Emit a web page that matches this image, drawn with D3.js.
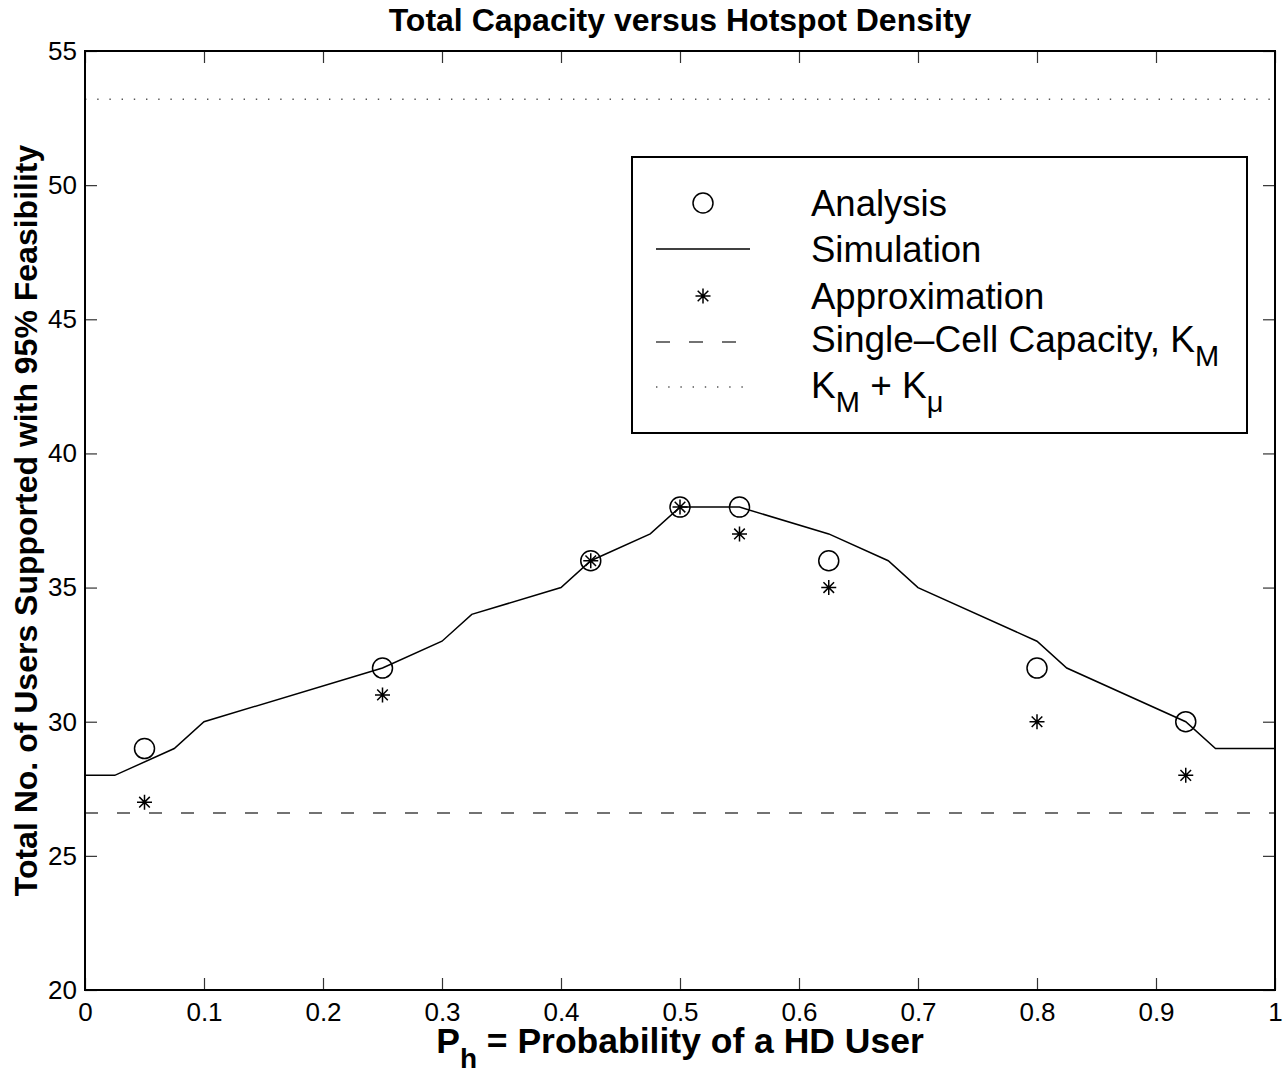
<!DOCTYPE html>
<html>
<head>
<meta charset="utf-8">
<script src="https://cdn.jsdelivr.net/npm/d3@7"></script>
<style>
  body { margin: 0; background: #fff; }
  text { font-family: "Liberation Sans", Arial, Helvetica, sans-serif; }
</style>
</head>
<body>
<div id="plot"></div>
<script>
// data
var simX = [0, 0.025, 0.075, 0.1, 0.25, 0.3, 0.325, 0.4, 0.425, 0.475, 0.5, 0.55, 0.625, 0.675, 0.7, 0.8, 0.825, 0.925, 0.95, 1];
var simY = [28, 28, 29, 30, 32, 33, 34, 35, 36, 37, 38, 38, 37, 36, 35, 33, 32, 30, 29, 29];
var ptX = [0.05, 0.25, 0.425, 0.5, 0.55, 0.625, 0.8, 0.925];
var analysisY = [29, 32, 36, 38, 38, 36, 32, 30];
var approxY = [27, 31, 36, 38, 37, 35, 30, 28];
var singleCell = 26.6;
var kmPlusKmu = 53.2;
var xTicks = [0, 0.1, 0.2, 0.3, 0.4, 0.5, 0.6, 0.7, 0.8, 0.9, 1];
var yTicks = [20, 25, 30, 35, 40, 45, 50, 55];

// set up drawing area
var W = 1285, H = 1076;
var margin = {t:51, r:10, b:86, l:85};
var width = W - margin.l - margin.r,
    height = H - margin.t - margin.b;

var svg = d3.select('#plot')
    .append('svg')
    .attr('width', W)
    .attr('height', H);

var plot = svg.append('g')
    .attr('transform', 'translate(' + margin.l + ',' + margin.t + ')');

var x = d3.scaleLinear().domain([0, 1]).range([0, width]);
var y = d3.scaleLinear().domain([20, 55]).range([height, 0]);

// axes, ticks pointing inward on all four sides
function styleAxis(g) {
    g.select('.domain').remove();
    g.selectAll('.tick line').attr('stroke', '#333').attr('stroke-width', 1.2);
    g.selectAll('.tick text')
        .style('font-size', '26px')
        .attr('fill', '#000');
}

plot.append('g')
    .attr('transform', 'translate(0,' + height + ')')
    .call(d3.axisBottom(x).tickValues(xTicks).tickSize(-12).tickPadding(13)
        .tickFormat(function(d){ return d === 0 || d === 1 ? d3.format('d')(d) : d3.format('.1f')(d); }))
    .call(styleAxis);

plot.append('g')
    .call(d3.axisTop(x).tickValues(xTicks).tickSize(-12).tickFormat(''))
    .call(styleAxis);

plot.append('g')
    .call(d3.axisLeft(y).tickValues(yTicks).tickSize(-12).tickPadding(8))
    .call(styleAxis);

plot.append('g')
    .attr('transform', 'translate(' + width + ',0)')
    .call(d3.axisRight(y).tickValues(yTicks).tickSize(-12).tickFormat(''))
    .call(styleAxis);

// reference lines
plot.append('line')
    .attr('x1', x(0)).attr('x2', x(1))
    .attr('y1', y(singleCell)).attr('y2', y(singleCell))
    .attr('stroke', '#444').attr('stroke-width', 1.5)
    .attr('stroke-dasharray', '13,19');

plot.append('line')
    .attr('x1', x(0)).attr('x2', x(1))
    .attr('y1', y(kmPlusKmu)).attr('y2', y(kmPlusKmu))
    .attr('stroke', '#555').attr('stroke-width', 1.4)
    .attr('stroke-dasharray', '1.4,10.8');

// simulation curve
var simData = simX.map(function(d, i){ return [d, simY[i]]; });
var line = d3.line()
    .x(function(d){ return x(d[0]); })
    .y(function(d){ return y(d[1]); });

plot.append('path')
    .datum(simData)
    .attr('d', line)
    .attr('fill', 'none')
    .attr('stroke', '#000')
    .attr('stroke-width', 1.5);

// asterisk marker
function star(cx, cy, r) {
    var p = '';
    for (var k = 0; k < 4; k++) {
        var a = k * Math.PI / 4;
        var dx = r * Math.cos(a), dy = r * Math.sin(a);
        p += 'M' + (cx - dx) + ',' + (cy - dy) + 'L' + (cx + dx) + ',' + (cy + dy);
    }
    return p;
}

// analysis circles
plot.selectAll('.ana')
    .data(ptX)
    .enter()
    .append('circle')
    .attr('cx', function(d){ return x(d); })
    .attr('cy', function(d, i){ return y(analysisY[i]); })
    .attr('r', 10)
    .attr('fill', 'none')
    .attr('stroke', '#000')
    .attr('stroke-width', 1.5);

// approximation stars
plot.selectAll('.apx')
    .data(ptX)
    .enter()
    .append('path')
    .attr('d', function(d, i){ return star(x(d), y(approxY[i]), 7.5); })
    .attr('stroke', '#000')
    .attr('stroke-width', 1.5);

// frame
plot.append('rect')
    .attr('width', width).attr('height', height)
    .attr('fill', 'none')
    .attr('stroke', '#000')
    .attr('stroke-width', 2);

// legend
var leg = svg.append('g');
leg.append('rect')
    .attr('x', 632).attr('y', 157)
    .attr('width', 615).attr('height', 276)
    .attr('fill', '#fff')
    .attr('stroke', '#000')
    .attr('stroke-width', 2);

var rows = [203, 249, 296, 342, 387];
leg.append('circle')
    .attr('cx', 703).attr('cy', rows[0]).attr('r', 10)
    .attr('fill', 'none').attr('stroke', '#000').attr('stroke-width', 1.5);
leg.append('line')
    .attr('x1', 656).attr('x2', 750).attr('y1', rows[1]).attr('y2', rows[1])
    .attr('stroke', '#000').attr('stroke-width', 1.5);
leg.append('path')
    .attr('d', star(703, rows[2], 7.5))
    .attr('stroke', '#000').attr('stroke-width', 1.5);
leg.append('line')
    .attr('x1', 656).attr('x2', 736).attr('y1', rows[3]).attr('y2', rows[3])
    .attr('stroke', '#444').attr('stroke-width', 1.5).attr('stroke-dasharray', '14,19');
leg.append('line')
    .attr('x1', 656).attr('x2', 745).attr('y1', rows[4]).attr('y2', rows[4])
    .attr('stroke', '#555').attr('stroke-width', 1.4).attr('stroke-dasharray', '1.4,10.8');

function legText(row) {
    return leg.append('text')
        .attr('x', 811).attr('y', rows[row] + 13)
        .style('font-size', '36.5px');
}
legText(0).text('Analysis');
legText(1).text('Simulation');
legText(2).text('Approximation');
var t3 = legText(3).attr('y', rows[3] + 10).style('font-size', '37px');
t3.append('tspan').text('Single\u2013Cell Capacity, K');
t3.append('tspan').attr('dy', 14).style('font-size', '29px').text('M');
var t4 = legText(4).attr('y', rows[4] + 11).style('font-size', '37px');
t4.append('tspan').text('K');
t4.append('tspan').attr('dy', 14).style('font-size', '29px').text('M');
t4.append('tspan').attr('dy', -14).text(' + K');
t4.append('tspan').attr('dy', 14).style('font-size', '29px').text('\u03bc');

// title and axis labels
svg.append('text')
    .attr('x', margin.l + width / 2).attr('y', 31)
    .attr('text-anchor', 'middle')
    .style('font-size', '32px').style('font-weight', 'bold')
    .text('Total Capacity versus Hotspot Density');

var xl = svg.append('text')
    .attr('x', margin.l + width / 2).attr('y', 1053)
    .attr('text-anchor', 'middle')
    .style('font-size', '35.5px').style('font-weight', 'bold');
xl.append('tspan').text('P');
xl.append('tspan').attr('dy', 15).style('font-size', '28px').text('h');
xl.append('tspan').attr('dy', -15).text(' = Probability of a HD User');

svg.append('text')
    .attr('transform', 'translate(37,' + (margin.t + height / 2) + ') rotate(-90)')
    .attr('text-anchor', 'middle')
    .style('font-size', '32px').style('font-weight', 'bold')
    .text('Total No. of Users Supported with 95% Feasibility');
</script>
</body>
</html>
